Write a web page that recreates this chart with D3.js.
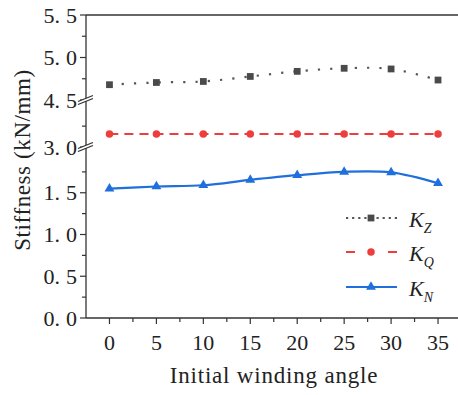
<!DOCTYPE html>
<html><head><meta charset="utf-8">
<script src="https://cdn.jsdelivr.net/npm/d3@7/dist/d3.min.js"></script>
<style>body{margin:0;background:#fff}svg{display:block}
text{font-family:"Liberation Serif","Times New Roman",Times,"DejaVu Serif",serif}</style>
</head><body>
<svg id="c" width="458" height="395"></svg>
<script>
// ---- data ----
const angles = [0, 5, 10, 15, 20, 25, 30, 35];
const kZ = [4.68, 4.706, 4.718, 4.777, 4.837, 4.873, 4.865, 4.735];
const kQ = [3.155, 3.155, 3.155, 3.155, 3.155, 3.155, 3.155, 3.155];
const kN = [1.55, 1.575, 1.59, 1.654, 1.71, 1.75, 1.743, 1.614];
const xTickValues = [0, 5, 10, 15, 20, 25, 30, 35];
const xMinorValues = [2.5, 7.5, 12.5, 17.5, 22.5, 27.5, 32.5];
const yTickValues = [0, 0.5, 1.0, 1.5, 3.0, 4.5, 5.0, 5.5];
const yTickLabels = ["0.0", "0.5", "1.0", "1.5", "3.0", "4.5", "5.0", "5.5"];
const yMinorValues = [0.25, 0.75, 1.25, 1.75, 3.25, 4.75, 5.25];
const yBreaks = [4.5, 3.0];
const ySegmentDomains = [[0, 2.0], [3.0, 3.5], [4.5, 5.5]];
const seriesKeys = ["Z", "Q", "N"];
const xTitle = "Initial winding angle";
const yTitle = "Stiffness (kN/mm)";

// ---- layout ----
const svg = d3.select("#c");
const L = 86, R = 458, T = 15, B = 318;
const x = d3.scaleLinear().domain([-2.5, 37.5]).range([L, 461.5]);
const segRanges = [[318, 151], [147, 105.3], [100, 15]];
const segScales = ySegmentDomains.map((d, i) => d3.scaleLinear().domain(d).range(segRanges[i]));
function y(v) {
  for (let i = 0; i < ySegmentDomains.length; i++) {
    const d = ySegmentDomains[i];
    if (v >= d[0] - 1e-9 && v <= d[1] + 1e-9) return segScales[i](v);
  }
  for (let i = 0; i < ySegmentDomains.length - 1; i++) {
    if (v > ySegmentDomains[i][1] && v < ySegmentDomains[i + 1][0]) return segScales[i](ySegmentDomains[i][1]);
  }
  return segScales[segScales.length - 1](v);
}

const axisColor = "#333";

svg.append("line").attr("x1", L).attr("x2", L).attr("y1", T).attr("y2", B)
  .attr("stroke", axisColor).attr("stroke-width", 1.3);
svg.append("line").attr("x1", L).attr("x2", R).attr("y1", B).attr("y2", B)
  .attr("stroke", axisColor).attr("stroke-width", 1.3);
svg.append("line").attr("x1", L).attr("x2", R).attr("y1", T).attr("y2", T)
  .attr("stroke", axisColor).attr("stroke-width", 1.3);

svg.selectAll(".xt").data(xTickValues).join("line")
  .attr("x1", d => x(d)).attr("x2", d => x(d)).attr("y1", B).attr("y2", B + 6)
  .attr("stroke", axisColor).attr("stroke-width", 1.2);
svg.selectAll(".xm").data(xMinorValues).join("line")
  .attr("x1", d => x(d)).attr("x2", d => x(d)).attr("y1", B).attr("y2", B + 4)
  .attr("stroke", axisColor).attr("stroke-width", 1.2);
svg.selectAll(".xl").data(xTickValues).join("text")
  .attr("x", d => x(d)).attr("y", 350).attr("text-anchor", "middle")
  .attr("font-size", 22).attr("fill", "#222")
  .text(d => d);

svg.selectAll(".yt").data(yTickValues).join("line")
  .attr("x1", L - 6).attr("x2", L).attr("y1", d => y(d)).attr("y2", d => y(d))
  .attr("stroke", axisColor).attr("stroke-width", 1.2);
svg.selectAll(".ym").data(yMinorValues).join("line")
  .attr("x1", L - 4).attr("x2", L).attr("y1", d => y(d)).attr("y2", d => y(d))
  .attr("stroke", axisColor).attr("stroke-width", 1.2);
const yl = svg.selectAll(".yl").data(yTickValues).join("text")
  .attr("x", 77).attr("y", d => y(d) + 7.5).attr("text-anchor", "end")
  .attr("font-size", 22).attr("fill", "#222");
yl.each(function(d, i) {
  const parts = yTickLabels[i].split(".");
  const t = d3.select(this);
  t.append("tspan").text(parts[0] + ".");
  t.append("tspan").attr("dx", 6).text(parts[1]);
});

yBreaks.forEach(v => {
  const cy = y(v);
  const g = svg.append("g");
  g.append("path").attr("d", `M${L-8},${cy+4.5} L${L+7},${cy-1.5} L${L+7},${cy-4.5} L${L-8},${cy+1.5}Z`)
    .attr("fill", "#fff");
  g.append("line").attr("x1", L - 8).attr("y1", cy + 4.5).attr("x2", L + 7).attr("y2", cy - 1.5)
    .attr("stroke", axisColor).attr("stroke-width", 1.2);
  g.append("line").attr("x1", L - 8).attr("y1", cy + 1.5).attr("x2", L + 7).attr("y2", cy - 4.5)
    .attr("stroke", axisColor).attr("stroke-width", 1.2);
});

svg.append("text").attr("x", 274).attr("y", 383).attr("text-anchor", "middle")
  .attr("font-size", 23).attr("letter-spacing", 0.8).attr("fill", "#222").text(xTitle);
svg.append("text").attr("transform", "translate(30,160) rotate(-90)").attr("text-anchor", "middle")
  .attr("font-size", 23).attr("letter-spacing", 0.6).attr("fill", "#222").text(yTitle);

const series = [
  { key: seriesKeys[0], values: kZ, color: "#555555", mcolor: "#4a4a4a", dash: "2.2 10.1", width: 2.2, sym: d3.symbolSquare, size: 46, ldash: "2.2 3.9" },
  { key: seriesKeys[1], values: kQ, color: "#ee3d3d", mcolor: "#ee3d3d", dash: "9 6", width: 2, sym: d3.symbolCircle, size: 44, ldash: "9 33" },
  { key: seriesKeys[2], values: kN, color: "#1f6fdc", mcolor: "#1f6fdc", dash: null, width: 2.2, sym: d3.symbolTriangle, size: 42, ldash: null }
];
const line = d3.line().x(d => x(d[0])).y(d => y(d[1])).curve(d3.curveCatmullRom.alpha(0.5));
series.forEach(s => {
  const pts = angles.map((a, i) => [a, s.values[i]]);
  svg.append("path").attr("d", line(pts)).attr("fill", "none")
    .attr("stroke", s.color).attr("stroke-width", s.width)
    .attr("stroke-dasharray", s.dash);
  svg.selectAll(null).data(pts).join("path")
    .attr("transform", d => `translate(${x(d[0])},${y(d[1])})`)
    .attr("d", d3.symbol().type(s.sym).size(s.size)).attr("fill", s.mcolor);
});

const legY = [218, 252, 287];
series.forEach((s, i) => {
  const ly = legY[i];
  svg.append("line").attr("x1", 346).attr("x2", 397).attr("y1", ly).attr("y2", ly)
    .attr("stroke", s.color).attr("stroke-width", s.width).attr("stroke-dasharray", s.ldash);
  svg.append("path").attr("transform", `translate(371,${ly})`)
    .attr("d", d3.symbol().type(s.sym).size(s.size)).attr("fill", s.mcolor);
  const t = svg.append("text").attr("x", 409).attr("y", ly + 9)
    .attr("font-size", 22).attr("font-style", "italic").attr("fill", "#222");
  t.append("tspan").text("K");
  t.append("tspan").attr("dy", 6).attr("font-size", 14).text(s.key);
});
</script>
</body></html>
